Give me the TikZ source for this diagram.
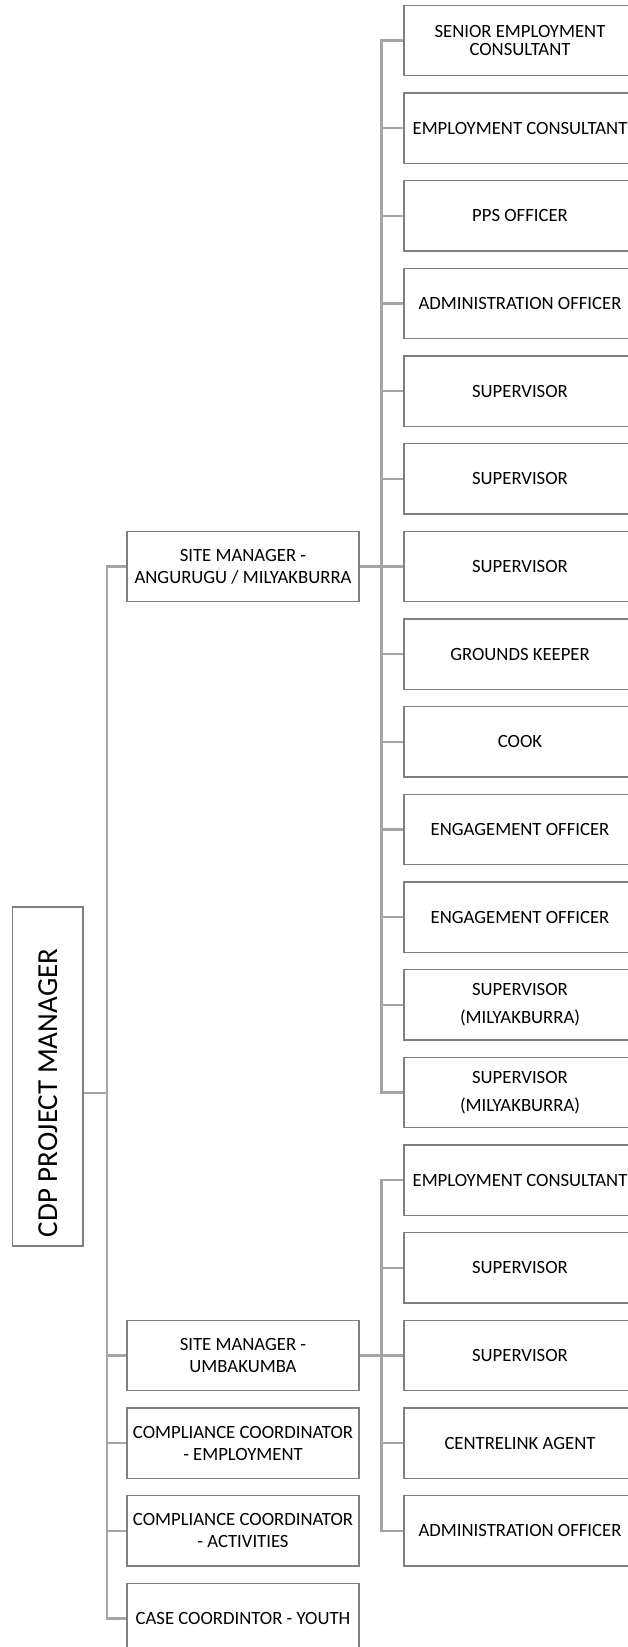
\documentclass[tikz,border=0pt]{standalone}
\usepackage{fontspec}
\setmainfont{Carlito}
\usepackage{tikz}
\usetikzlibrary{positioning}

\definecolor{linegray}{HTML}{A5A5A5}
\definecolor{boxgray}{HTML}{7F7F7F}

\tikzset{
  role/.style={draw=boxgray, line width=1.3pt, fill=white, align=center,
    minimum width=232pt, minimum height=70.5pt, inner sep=0pt,
    font=\fontsize{18.7}{18.5}\selectfont},
  midrole/.style={role, font=\fontsize{18.7}{22}\selectfont},
  link/.style={draw=linegray, line width=2.4pt},
  elbow/.style={to path={|- (\tikztotarget)}}
}

\begin{document}
\begin{tikzpicture}[x=1pt, y=-1pt]
  \useasboundingbox (0,0) rectangle (628,1647);

  % top of the chart (rotated, so its south side faces right)
  \node (pm) [role, rotate=90, minimum width=339pt, minimum height=70.3pt,
    font=\fontsize{29}{34}\selectfont] at (47.9,1076.5) {CDP PROJECT MANAGER\hspace{33pt}};

  % second level
  \node (smA) [midrole] at (243,566.5) {SITE MANAGER -\\ANGURUGU / MILYAKBURRA};
  \node (smU) [midrole] at (243,1355.4) {SITE MANAGER -\\UMBAKUMBA};
  \node (ccE) [midrole] at (243,1443.1) {COMPLIANCE COORDINATOR\\- EMPLOYMENT};
  \node (ccA) [midrole] at (243,1530.7) {COMPLIANCE COORDINATOR\\- ACTIVITIES};
  \node (ccY) [midrole] at (243,1618.4) {CASE COORDINTOR - YOUTH};

  % staff under Angurugu / Milyakburra
  \node (sec) [role] at (520,40.5) {SENIOR EMPLOYMENT\\CONSULTANT};
  \node (ec1) [role] at (520,128.2) {EMPLOYMENT CONSULTANT};
  \node (pps) [role] at (520,215.8) {PPS OFFICER};
  \node (ad1) [role] at (520,303.5) {ADMINISTRATION OFFICER};
  \node (su1) [role] at (520,391.1) {SUPERVISOR};
  \node (su2) [role] at (520,478.8) {SUPERVISOR};
  \node (su3) [role] at (520,566.5) {SUPERVISOR};
  \node (gk)  [role] at (520,654.1) {GROUNDS KEEPER};
  \node (cook) [role] at (520,741.8) {COOK};
  \node (eo1) [role] at (520,829.4) {ENGAGEMENT OFFICER};
  \node (eo2) [role] at (520,917.1) {ENGAGEMENT OFFICER};
  \node (sm1) [role] at (520,1004.8) {SUPERVISOR\\[9.5pt](MILYAKBURRA)};
  \node (sm2) [role] at (520,1092.4) {SUPERVISOR\\[9.5pt](MILYAKBURRA)};

  % staff under Umbakumba
  \node (ec2) [role] at (520,1180.1) {EMPLOYMENT CONSULTANT};
  \node (su4) [role] at (520,1267.7) {SUPERVISOR};
  \node (su5) [role] at (520,1355.4) {SUPERVISOR};
  \node (cla) [role] at (520,1443.1) {CENTRELINK AGENT};
  \node (ad2) [role] at (520,1530.7) {ADMINISTRATION OFFICER};

  % trunks
  \draw [link] ([yshift=-16.5pt]pm.south) -- ++(23,0) coordinate (tP);
  \draw [link] (smA.east) -- ++(22,0) coordinate (tA);
  \draw [link] (smU.east) -- ++(22,0) coordinate (tU);

  \path [link]
    (tP) edge [elbow] (smA.west)
    (tP) edge [elbow] (smU.west)
    (tP) edge [elbow] (ccE.west)
    (tP) edge [elbow] (ccA.west)
    (tP) edge [elbow] (ccY.west);

  \path [link]
    (tA) edge [elbow] (sec.west)
    (tA) edge [elbow] (ec1.west)
    (tA) edge [elbow] (pps.west)
    (tA) edge [elbow] (ad1.west)
    (tA) edge [elbow] (su1.west)
    (tA) edge [elbow] (su2.west)
    (tA) edge [elbow] (su3.west)
    (tA) edge [elbow] (gk.west)
    (tA) edge [elbow] (cook.west)
    (tA) edge [elbow] (eo1.west)
    (tA) edge [elbow] (eo2.west)
    (tA) edge [elbow] (sm1.west)
    (tA) edge [elbow] (sm2.west);

  \path [link]
    (tU) edge [elbow] (ec2.west)
    (tU) edge [elbow] (su4.west)
    (tU) edge [elbow] (su5.west)
    (tU) edge [elbow] (cla.west)
    (tU) edge [elbow] (ad2.west);
\end{tikzpicture}
\end{document}
